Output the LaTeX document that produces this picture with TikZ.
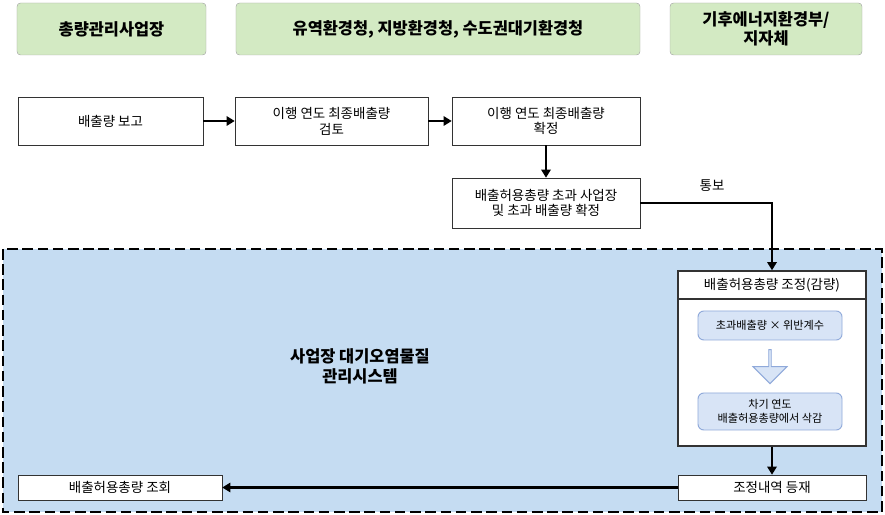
\documentclass[tikz,border=0pt]{standalone}
\usepackage{fontspec}
\setmainfont{Noto Sans CJK KR}
\usetikzlibrary{arrows.meta,shapes.arrows}
\definecolor{hdr}{HTML}{D3EAC3}
\definecolor{sys}{HTML}{C5DCF2}
\definecolor{inb}{HTML}{D8E4F6}
\definecolor{inl}{HTML}{8FA9DA}
\begin{document}
\begin{tikzpicture}[x=0.03cm,y=-0.03cm,
 hd/.style={draw=gray!70,fill=hdr,rounded corners=3pt,font=\bfseries\fontsize{14}{16}\selectfont,align=center},
 bx/.style={draw=black!80,fill=white,font=\fontsize{11.5}{13.5}\selectfont,align=center,inner sep=0pt},
 ib/.style={draw=inl,line width=0.8pt,fill=inb,rounded corners=5pt,font=\fontsize{9.5}{11.5}\selectfont,align=center,inner sep=0pt},
 ar/.style={line width=2.4pt,-{Triangle[length=7pt,width=8pt]}}]
\useasboundingbox (0,0) rectangle (885,515);
\node[hd,minimum width=189*0.3mm,minimum height=52*0.3mm] (h1) at (111.5,29) {총량관리사업장};
\node[hd,minimum width=404*0.3mm,minimum height=52*0.3mm] (h2) at (438,29) {유역환경청, 지방환경청, 수도권대기환경청};
\node[hd,minimum width=192*0.3mm,minimum height=52*0.3mm] (h3) at (766,29) {기후에너지환경부/\\지자체};
\node[bx,minimum width=185*0.3mm,minimum height=48*0.3mm] (a) at (110.5,121) {배출량 보고};
\node[bx,minimum width=193*0.3mm,minimum height=48*0.3mm] (b) at (331.5,121) {이행 연도 최종배출량\\검토};
\node[bx,minimum width=188*0.3mm,minimum height=48*0.3mm] (c) at (546,121) {이행 연도 최종배출량\\확정};
\node[bx,minimum width=188*0.3mm,minimum height=50*0.3mm] (d) at (546,203) {배출허용총량 초과 사업장\\및 초과 배출량 확정};
\node[font=\fontsize{11.5}{13.5}\selectfont] (t) at (712,186) {통보};
\draw[line width=2.4pt,dash pattern=on 9pt off 4pt,fill=sys] (3,249) rectangle (882,512);
\node[font=\bfseries\fontsize{14}{17}\selectfont,align=center] (s) at (360,366) {사업장 대기오염물질\\관리시스템};
\node[bx,minimum width=188*0.3mm,minimum height=28*0.3mm,line width=1.2pt] (r1) at (772,285) {배출허용총량 조정(감량)};
\node[bx,minimum width=188*0.3mm,minimum height=147*0.3mm,line width=1.2pt] (r2) at (772,372.5) {};
\node[ib,minimum width=144*0.3mm,minimum height=29*0.3mm] (i1) at (770,325.5) {초과배출량 × 위반계수};
\node[ib,minimum width=144*0.3mm,minimum height=37*0.3mm] (i2) at (770,411.5) {차기 연도\\배출허용총량에서 삭감};
\node[single arrow,shape border rotate=270,draw=inl,line width=0.8pt,fill=inb,minimum height=34*0.3mm,minimum width=34*0.3mm,single arrow head extend=5pt,inner sep=0pt] (ha) at (770,366) {};
\node[bx,minimum width=188*0.3mm,minimum height=25*0.3mm] (e) at (772,487.5) {조정내역 등재};
\node[bx,minimum width=204*0.3mm,minimum height=25*0.3mm] (f) at (120,487.5) {배출허용총량 조회};
\draw[ar] (a) -- (b);
\draw[ar] (b) -- (c);
\draw[ar] (c) -- (d);
\draw[ar] (d.east) -| (r1.north);
\draw[ar] (r2) -- (e);
\draw[ar] (e) -- (f);
\end{tikzpicture}
\end{document}
